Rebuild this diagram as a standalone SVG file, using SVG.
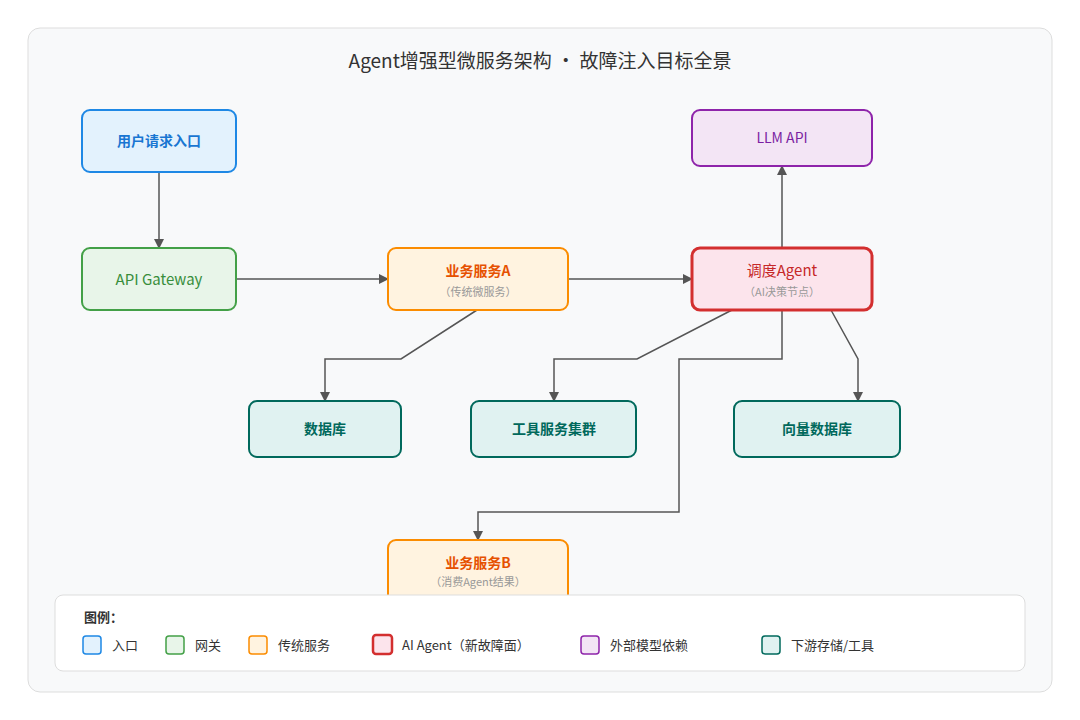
<svg xmlns="http://www.w3.org/2000/svg" width="1080" height="720" viewBox="0 0 1080 720">
<style>
text{font-family:"Noto Sans CJK SC","Noto Sans",sans-serif;text-anchor:middle}
.t{font-size:14px;font-weight:bold}
.s{font-size:11px;fill:#999}
.c{fill:none;stroke:#555;stroke-width:1.5;marker-end:url(#a)}
.l{font-size:13px;fill:#333;text-anchor:start}
.lt{font-size:13px;font-weight:bold;fill:#333;text-anchor:start}
</style>
<defs><marker id="a" markerWidth="10" markerHeight="10" refX="9" refY="5" orient="auto" markerUnits="userSpaceOnUse"><path d="M0,0 L10,5 L0,10 z" fill="#555"/></marker></defs>
<rect width="1080" height="720" fill="#fff"/>
<rect x="28" y="28" width="1024" height="664" rx="12" fill="#f8f9fa" stroke="#ddd"/>
<text x="540" y="68" font-size="19" fill="#333">Agent增强型微服务架构 · 故障注入目标全景</text>
<g id="connectors">
<path class="c" d="M159,172 V248"/>
<path class="c" d="M236,279 H388"/>
<path class="c" d="M568,279 H692"/>
<path class="c" d="M782,248 V166"/>
<path class="c" d="M477,310 L401,359 H325 V401"/>
<path class="c" d="M732,310 L637,359 H554 V401"/>
<path class="c" d="M782,310 V359 H679 V512 H478 V540"/>
<path class="c" d="M831,310 L858,359 V401"/>
</g>
<g id="entry"><rect x="82" y="110" width="154" height="62" rx="8" fill="#e3f2fd" stroke="#1e88e5" stroke-width="2"/><text class="t" x="159" y="146" fill="#1976d2">用户请求入口</text></g>
<g id="gateway"><rect x="82" y="248" width="154" height="62" rx="8" fill="#e8f5e9" stroke="#43a047" stroke-width="2"/><text x="159" y="285" font-size="15" fill="#388e3c">API Gateway</text></g>
<g id="svcA"><rect x="388" y="248" width="180" height="62" rx="8" fill="#fff3e0" stroke="#fb8c00" stroke-width="2"/><text class="t" x="478" y="276" fill="#e65100">业务服务A</text><text class="s" x="478" y="296">（传统微服务）</text></g>
<g id="agent"><rect x="692" y="248" width="180" height="62" rx="8" fill="#fce4ec" stroke="#d32f2f" stroke-width="3"/><text x="782" y="276" font-size="15" fill="#c62828">调度Agent</text><text class="s" x="782" y="296">（AI决策节点）</text></g>
<g id="llm"><rect x="692" y="110" width="180" height="56" rx="8" fill="#f3e5f5" stroke="#8e24aa" stroke-width="2"/><text x="782" y="143" font-size="14" fill="#7b1fa2">LLM API</text></g>
<g id="db"><rect x="249" y="401" width="152" height="56" rx="8" fill="#e0f2f1" stroke="#00695c" stroke-width="2"/><text class="t" x="325" y="434" fill="#00695c">数据库</text></g>
<g id="tools"><rect x="471" y="401" width="165" height="56" rx="8" fill="#e0f2f1" stroke="#00695c" stroke-width="2"/><text class="t" x="554" y="434" fill="#00695c">工具服务集群</text></g>
<g id="vdb"><rect x="734" y="401" width="166" height="56" rx="8" fill="#e0f2f1" stroke="#00695c" stroke-width="2"/><text class="t" x="817" y="434" fill="#00695c">向量数据库</text></g>
<g id="svcB"><rect x="388" y="540" width="180" height="70" rx="8" fill="#fff3e0" stroke="#fb8c00" stroke-width="2"/><text class="t" x="478" y="568" fill="#e65100">业务服务B</text><text class="s" x="478" y="586">（消费Agent结果）</text></g>
<g id="legend">
<rect x="55" y="595" width="970" height="76" rx="8" fill="#fff" stroke="#ddd"/>
<text class="lt" x="84" y="622">图例：</text>
<rect x="83" y="636" width="18" height="18" rx="3" fill="#e3f2fd" stroke="#1e88e5" stroke-width="1.5"/><text class="l" x="112" y="650">入口</text>
<rect x="166" y="636" width="18" height="18" rx="3" fill="#e8f5e9" stroke="#43a047" stroke-width="1.5"/><text class="l" x="195" y="650">网关</text>
<rect x="249" y="636" width="18" height="18" rx="3" fill="#fff3e0" stroke="#fb8c00" stroke-width="1.5"/><text class="l" x="278" y="650">传统服务</text>
<rect x="373" y="635" width="19" height="19" rx="3" fill="#fce4ec" stroke="#d32f2f" stroke-width="2.5"/><text class="l" x="402" y="650">AI Agent（新故障面）</text>
<rect x="581" y="636" width="18" height="18" rx="3" fill="#f3e5f5" stroke="#8e24aa" stroke-width="1.5"/><text class="l" x="610" y="650">外部模型依赖</text>
<rect x="762" y="636" width="18" height="18" rx="3" fill="#e0f2f1" stroke="#00695c" stroke-width="1.5"/><text class="l" x="791" y="650">下游存储/工具</text>
</g>
</svg>
